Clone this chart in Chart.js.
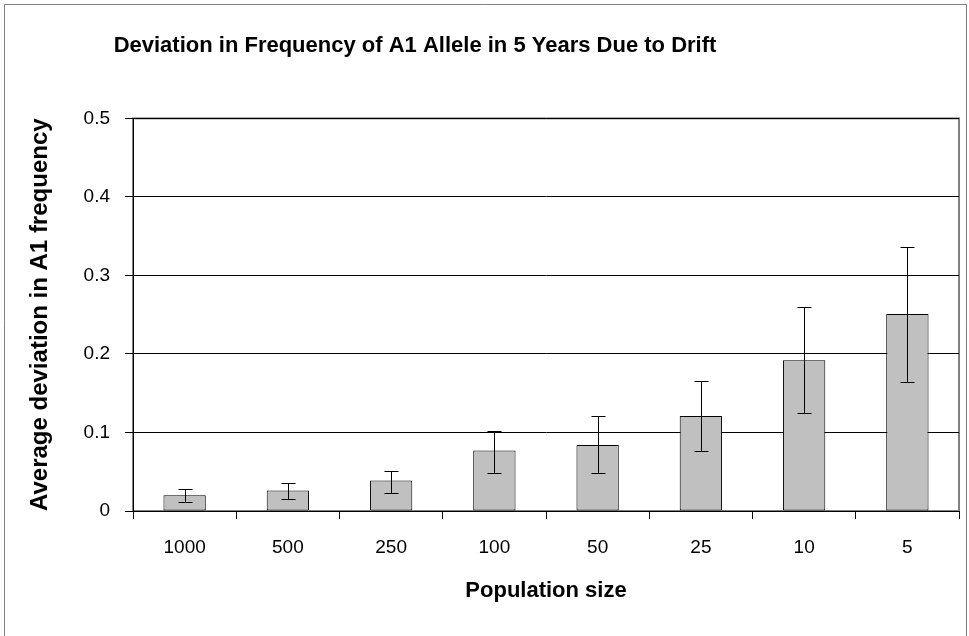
<!DOCTYPE html>
<html>
<head>
<meta charset="utf-8">
<script src="https://cdn.jsdelivr.net/npm/chart.js@4/dist/chart.umd.min.js"></script>
<style>
  html, body { margin: 0; padding: 0; background: #fff; }
  canvas { display: block; }
</style>
</head>
<body>
<canvas id="driftChart" width="969" height="636"></canvas>
<script>
  // values
  const populationSizes = ["1000", "500", "250", "100", "50", "25", "10", "5"];
  const meanDeviation = [0.020, 0.026, 0.039, 0.077, 0.084, 0.121, 0.192, 0.251];
  const errorUpper = [0.028, 0.036, 0.051, 0.102, 0.121, 0.166, 0.260, 0.336];
  const errorLower = [0.011, 0.015, 0.023, 0.048, 0.048, 0.077, 0.125, 0.164];
  const yTicks = [0, 0.1, 0.2, 0.3, 0.4, 0.5];

  const font = "'Liberation Sans', Arial, sans-serif";

  // white page, grey chart frame and grey plot-area border
  const frame = {
    id: "frame",
    afterLayout(chart) {
      // the title sits left of centre in the original
      chart.titleBlock.left = 0;
      chart.titleBlock.right = 830;
    },
    beforeDraw(chart) {
      const { ctx, chartArea } = chart;
      ctx.save();
      ctx.fillStyle = "#fff";
      ctx.fillRect(0, 0, chart.width, chart.height);
      ctx.strokeStyle = "#808080";
      ctx.lineWidth = 1;
      ctx.beginPath();
      ctx.moveTo(4.5, chart.height + 5);
      ctx.lineTo(4.5, 4.5);
      ctx.lineTo(966.5, 4.5);
      ctx.lineTo(966.5, chart.height + 5);
      ctx.stroke();
      ctx.lineWidth = 2;
      ctx.strokeRect(chartArea.left, chartArea.top, chartArea.right - chartArea.left, chartArea.bottom - chartArea.top);
      ctx.restore();
    }
  };

  // error bars drawn through the y scale
  const errorBars = {
    id: "errorBars",
    afterDatasetsDraw(chart) {
      const { ctx } = chart;
      const y = chart.scales.y;
      const meta = chart.getDatasetMeta(0);
      ctx.save();
      ctx.strokeStyle = "#000";
      ctx.lineWidth = 1;
      meta.data.forEach((bar, i) => {
        const x = Math.round(bar.x) + 0.5;
        const top = Math.round(y.getPixelForValue(errorUpper[i])) + 0.5;
        const bottom = Math.round(y.getPixelForValue(errorLower[i])) + 0.5;
        ctx.beginPath();
        ctx.moveTo(x, top);
        ctx.lineTo(x, bottom);
        ctx.moveTo(x - 7, top);
        ctx.lineTo(x + 7, top);
        ctx.moveTo(x - 7, bottom);
        ctx.lineTo(x + 7, bottom);
        ctx.stroke();
      });
      ctx.restore();
    }
  };

  new Chart(document.getElementById("driftChart"), {
    type: "bar",
    data: {
      labels: populationSizes,
      datasets: [{
        data: meanDeviation,
        backgroundColor: "#c0c0c0",
        borderColor: "#000",
        borderWidth: 1,
        borderSkipped: false,
        categoryPercentage: 1,
        barPercentage: 0.41
      }]
    },
    options: {
      responsive: false,
      animation: false,
      layout: { padding: { left: 0, right: 10, top: 33, bottom: 0 } },
      plugins: {
        legend: { display: false },
        tooltip: { enabled: false },
        title: {
          display: true,
          text: "Deviation in Frequency of A1 Allele in 5 Years Due to Drift",
          color: "#000",
          font: { family: font, size: 22, weight: "bold" },
          padding: { top: 0, bottom: 59 }
        }
      },
      scales: {
        x: {
          afterFit(scale) { scale.height = 125; },
          grid: {
            display: true,
            drawOnChartArea: false,
            drawTicks: true,
            tickLength: 8,
            color: "#000",
            tickColor: "#000"
          },
          border: { display: true, color: "#000", width: 1 },
          ticks: {
            color: "#000",
            padding: 17,
            maxRotation: 0,
            font: { family: font, size: 19 }
          },
          title: {
            display: true,
            text: "Population size",
            color: "#000",
            font: { family: font, size: 22, weight: "bold" },
            padding: { top: 0, bottom: 32 }
          }
        },
        y: {
          min: 0,
          max: 0.5,
          afterFit(scale) { scale.width = 133; },
          afterBuildTicks(scale) { scale.ticks = yTicks.map(v => ({ value: v })); },
          grid: {
            color: "#000",
            tickColor: "#000",
            lineWidth: 1,
            tickLength: 8
          },
          border: { display: true, color: "#000", width: 1 },
          ticks: {
            color: "#000",
            padding: 15,
            font: { family: font, size: 19 },
            callback: v => String(Math.round(v * 10) / 10)
          },
          title: {
            display: true,
            text: "Average deviation in A1 frequency",
            color: "#000",
            font: { family: font, size: 24, weight: "bold" },
            padding: { top: 26, bottom: 0 }
          }
        }
      }
    },
    plugins: [frame, errorBars]
  });
</script>
</body>
</html>
